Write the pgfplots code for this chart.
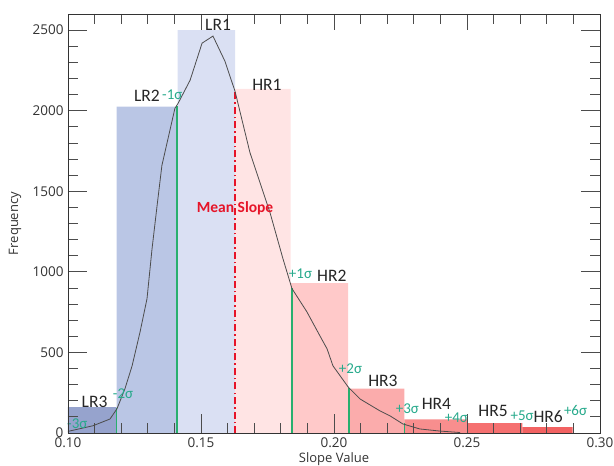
\documentclass[border=0pt]{standalone}
\usepackage{pgfplots}
\pgfplotsset{compat=1.18}
\usepackage{fontspec}
\setmainfont{Open Sans}
\newfontfamily\annfont{Carlito}
\definecolor{clrA}{RGB}{150,163,205}
\definecolor{clrB}{RGB}{186,198,229}
\definecolor{clrC}{RGB}{218,224,243}
\definecolor{clrD}{RGB}{255,228,228}
\definecolor{clrE}{RGB}{255,201,201}
\definecolor{clrF}{RGB}{251,172,172}
\definecolor{clrG}{RGB}{248,142,142}
\definecolor{clrH}{RGB}{245,112,112}
\definecolor{clrI}{RGB}{242,98,98}
\definecolor{sig}{RGB}{40,175,110}
\definecolor{sigtxt}{RGB}{40,170,140}
\definecolor{meanred}{RGB}{230,20,40}
\pgfplotsset{tk/.style={black!70, line width=0.8pt, forget plot}}
\begin{document}
\begin{tikzpicture}
\begin{axis}[
  scale only axis, width=532pt, height=419pt,
  xmin=0.10, xmax=0.30, ymin=0, ymax=2600,
  xtick={0.10,0.15,0.20,0.25,0.30},
  xticklabels={0.10,0.15,0.20,0.25,0.30},
  ytick={0,500,1000,1500,2000,2500},
  yticklabels={0,500,1000,1500,2000,2500},
  major tick length=0pt,
  ticklabel style={font=\fontsize{13.5}{15}\selectfont, color=black!80},
  yticklabel style={xshift=-1pt},
  xticklabel style={yshift=-1pt},
  xlabel={Slope Value}, ylabel={Frequency},
  label style={font=\fontsize{13}{15}\selectfont, color=black!80},
  x label style={at={(axis description cs:0.5,0)}, anchor=north, yshift=-16pt},
  y label style={at={(axis description cs:0,0.5)}, anchor=center, yshift=53pt},
  axis line style={black!80, line width=0.8pt},
  axis on top,
]
% bars
\addplot[fill=clrA, draw=none] coordinates {(0.100,0) (0.100,160) (0.1183,160) (0.1183,0)} \closedcycle;
\addplot[fill=clrB, draw=none] coordinates {(0.1183,0) (0.1183,2025) (0.1412,2025) (0.1412,0)} \closedcycle;
\addplot[fill=clrC, draw=none] coordinates {(0.1412,0) (0.1412,2500) (0.1628,2500) (0.1628,0)} \closedcycle;
\addplot[fill=clrD, draw=none] coordinates {(0.1628,0) (0.1628,2135) (0.1837,2135) (0.1837,0)} \closedcycle;
\addplot[fill=clrE, draw=none] coordinates {(0.1837,0) (0.1837,930) (0.2053,930) (0.2053,0)} \closedcycle;
\addplot[fill=clrF, draw=none] coordinates {(0.2053,0) (0.2053,275) (0.2265,275) (0.2265,0)} \closedcycle;
\addplot[fill=clrG, draw=none] coordinates {(0.2265,0) (0.2265,85) (0.2500,85) (0.2500,0)} \closedcycle;
\addplot[fill=clrH, draw=none] coordinates {(0.2500,0) (0.2500,62) (0.2708,62) (0.2708,0)} \closedcycle;
\addplot[fill=clrI, draw=none] coordinates {(0.2708,0) (0.2708,37) (0.2897,37) (0.2897,0)} \closedcycle;
% sigma lines
\addplot[sig, line width=1.5pt] coordinates {(0.1183,0) (0.1183,155)};
\addplot[sig, line width=1.5pt] coordinates {(0.1410,0) (0.1410,2030)};
\addplot[sig, line width=1.5pt] coordinates {(0.1842,0) (0.1842,900)};
\addplot[sig, line width=1.5pt] coordinates {(0.2057,0) (0.2057,280)};
\addplot[sig, line width=1.5pt] coordinates {(0.2265,0) (0.2265,60)};
% mean line
\addplot[meanred, line width=1.8pt, dash pattern=on 7pt off 3pt on 1.5pt off 3pt] coordinates {(0.1628,0) (0.1628,2120)};
% curve
\addplot[black!70, line width=0.8pt] coordinates {
(0.1000,10) (0.1094,45) (0.1158,87) (0.1184,150) (0.1214,274) (0.1241,417)
(0.1271,628) (0.1297,833) (0.1316,1144) (0.1335,1412) (0.1353,1660)
(0.1402,2015) (0.1414,2046) (0.1459,2189) (0.1504,2419) (0.1545,2463)
(0.1590,2307) (0.1628,2120) (0.1684,1740) (0.1759,1370) (0.1808,1082)
(0.1842,896) (0.1898,752) (0.1947,603) (0.1974,522) (0.1996,417)
(0.2053,286) (0.2098,211) (0.2173,137) (0.2211,106) (0.2259,56)
(0.2323,25) (0.2398,12) (0.2474,3)
};
% tick marks as single segments
\pgfplotsinvokeforeach{0.15,0.20,0.25}{
  \addplot[tk] coordinates {(#1,0) (#1,118)};
  \addplot[tk] coordinates {(#1,2600) (#1,2500)};
}
\pgfplotsinvokeforeach{0.11,0.12,0.13,0.14,0.16,0.17,0.18,0.19,0.21,0.22,0.23,0.24,0.26,0.27,0.28,0.29}{
  \addplot[tk] coordinates {(#1,0) (#1,62)};
  \addplot[tk] coordinates {(#1,2600) (#1,2538)};
}
\pgfplotsinvokeforeach{500,1000,1500,2000,2500}{
  \addplot[tk] coordinates {(0.10,#1) (0.10714,#1)};
  \addplot[tk] coordinates {(0.30,#1) (0.29286,#1)};
}
\pgfplotsinvokeforeach{100,200,300,400,600,700,800,900,1100,1200,1300,1400,1600,1700,1800,1900,2100,2200,2300,2400}{
  \addplot[tk] coordinates {(0.10,#1) (0.10376,#1)};
  \addplot[tk] coordinates {(0.30,#1) (0.29624,#1)};
}
% labels
\begin{scope}[font=\annfont\fontsize{17.5}{19}\selectfont, text=black!85]
\node at (axis cs:0.1100,190) {LR3};
\node at (axis cs:0.1297,2090) {LR2};
\node at (axis cs:0.1564,2530) {LR1};
\node at (axis cs:0.1748,2158) {HR1};
\node at (axis cs:0.1992,975) {HR2};
\node at (axis cs:0.2184,323) {HR3};
\node at (axis cs:0.2385,178) {HR4};
\node at (axis cs:0.2598,137) {HR5};
\node at (axis cs:0.2805,100) {HR6};
\end{scope}
\begin{scope}[font=\annfont\fontsize{15}{17}\selectfont, text=sigtxt]
\node at (axis cs:0.1035,60) {-3σ};
\node at (axis cs:0.1207,245) {-2σ};
\node at (axis cs:0.1392,2100) {-1σ};
\node at (axis cs:0.1874,990) {+1σ};
\node at (axis cs:0.2062,398) {+2σ};
\node at (axis cs:0.2276,149) {+3σ};
\node at (axis cs:0.2460,92) {+4σ};
\node at (axis cs:0.2707,106) {+5σ};
\node at (axis cs:0.2908,137) {+6σ};
\end{scope}
\node[font=\annfont\bfseries\fontsize{15.5}{17}\selectfont, text=meanred] at (axis cs:0.1628,1393) {Mean Slope};
\end{axis}
\pgfresetboundingbox
\path[use as bounding box] ([xshift=-68pt,yshift=-32pt]current axis.south west) rectangle ([xshift=14pt,yshift=14pt]current axis.north east);
\end{tikzpicture}
\end{document}
